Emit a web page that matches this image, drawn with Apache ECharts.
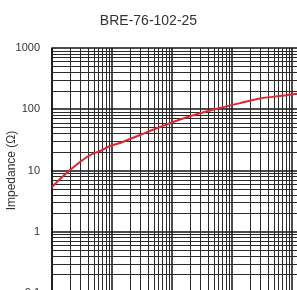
<!DOCTYPE html>
<html><head><meta charset="utf-8">
<script src="https://cdn.jsdelivr.net/npm/echarts@6/dist/echarts.min.js"></script>
<style>html,body{margin:0;padding:0;background:#fff}#c{width:297px;height:290px}</style>
</head><body><div id="c"></div>
<script>
var title = 'BRE-76-102-25';
var yAxisName = 'Impedance (\u03A9)';
var freq = [1, 1.36, 2.0, 2.93, 4.30, 6.31, 9.26, 13.6, 20, 29.3, 63.1, 136, 293, 631, 1359, 2929, 6310, 11220, 14000];
var impedance = [5.38, 7.26, 10.2, 13.8, 17.9, 20.8, 25.1, 28.1, 32.7, 38.0, 51.3, 68, 86.0, 105, 126, 150, 164, 177, 179];
var decadesX = [1, 10, 100, 1000, 10000];
var decadesY = [0.1, 1, 10, 100];
var minorMult = [2, 3, 4, 5, 6, 7, 8, 9];

var gridMarks = [];
decadesX.forEach(function (d) { minorMult.forEach(function (m) { gridMarks.push({xAxis: d * m}); }); });
decadesY.forEach(function (d) { minorMult.forEach(function (m) { gridMarks.push({yAxis: d * m}); }); });

var chart = echarts.init(document.getElementById('c'), null, {renderer: 'canvas'});
chart.setOption({
  animation: false,
  backgroundColor: '#fff',
  title: {text: title, left: 'center', top: 9, textStyle: {fontFamily: 'Liberation Sans', fontSize: 14, fontWeight: 'normal', color: '#333'}},
  grid: {left: 52, top: 48, width: 300, height: 245, containLabel: false, outerBoundsMode: 'none'},
  xAxis: {type: 'log', min: 1, max: 100000, logBase: 10,
    axisLine: {show: true, lineStyle: {color: '#111', width: 1.5}},
    axisTick: {show: false}, axisLabel: {show: false},
    splitLine: {show: true, lineStyle: {color: '#111', width: 1.5}}},
  yAxis: {type: 'log', min: 0.1, max: 1000, logBase: 10,
    name: yAxisName, nameLocation: 'middle', nameGap: 34, nameRotate: 90, nameMoveOverlap: false,
    nameTextStyle: {fontFamily: 'Liberation Sans', fontSize: 12, color: '#333'},
    axisLine: {show: true, lineStyle: {color: '#111', width: 1.5}},
    axisTick: {show: false},
    axisLabel: {margin: 12, fontFamily: 'Liberation Sans', fontSize: 11, color: '#333',
      formatter: function (v) { return String(v); }},
    splitLine: {show: true, lineStyle: {color: '#111', width: 1.5}}},
  series: [{
    type: 'line', data: freq.map(function (f, i) { return [f, impedance[i]]; }),
    smooth: 0.3, showSymbol: false, z: 10,
    lineStyle: {color: '#e02630', width: 2},
    markLine: {silent: true, symbol: 'none', label: {show: false}, animation: false,
      lineStyle: {color: '#2a2a2a', width: 1, type: 'solid'}, emphasis: {disabled: true},
      data: gridMarks}
  }]
});
</script></body></html>
